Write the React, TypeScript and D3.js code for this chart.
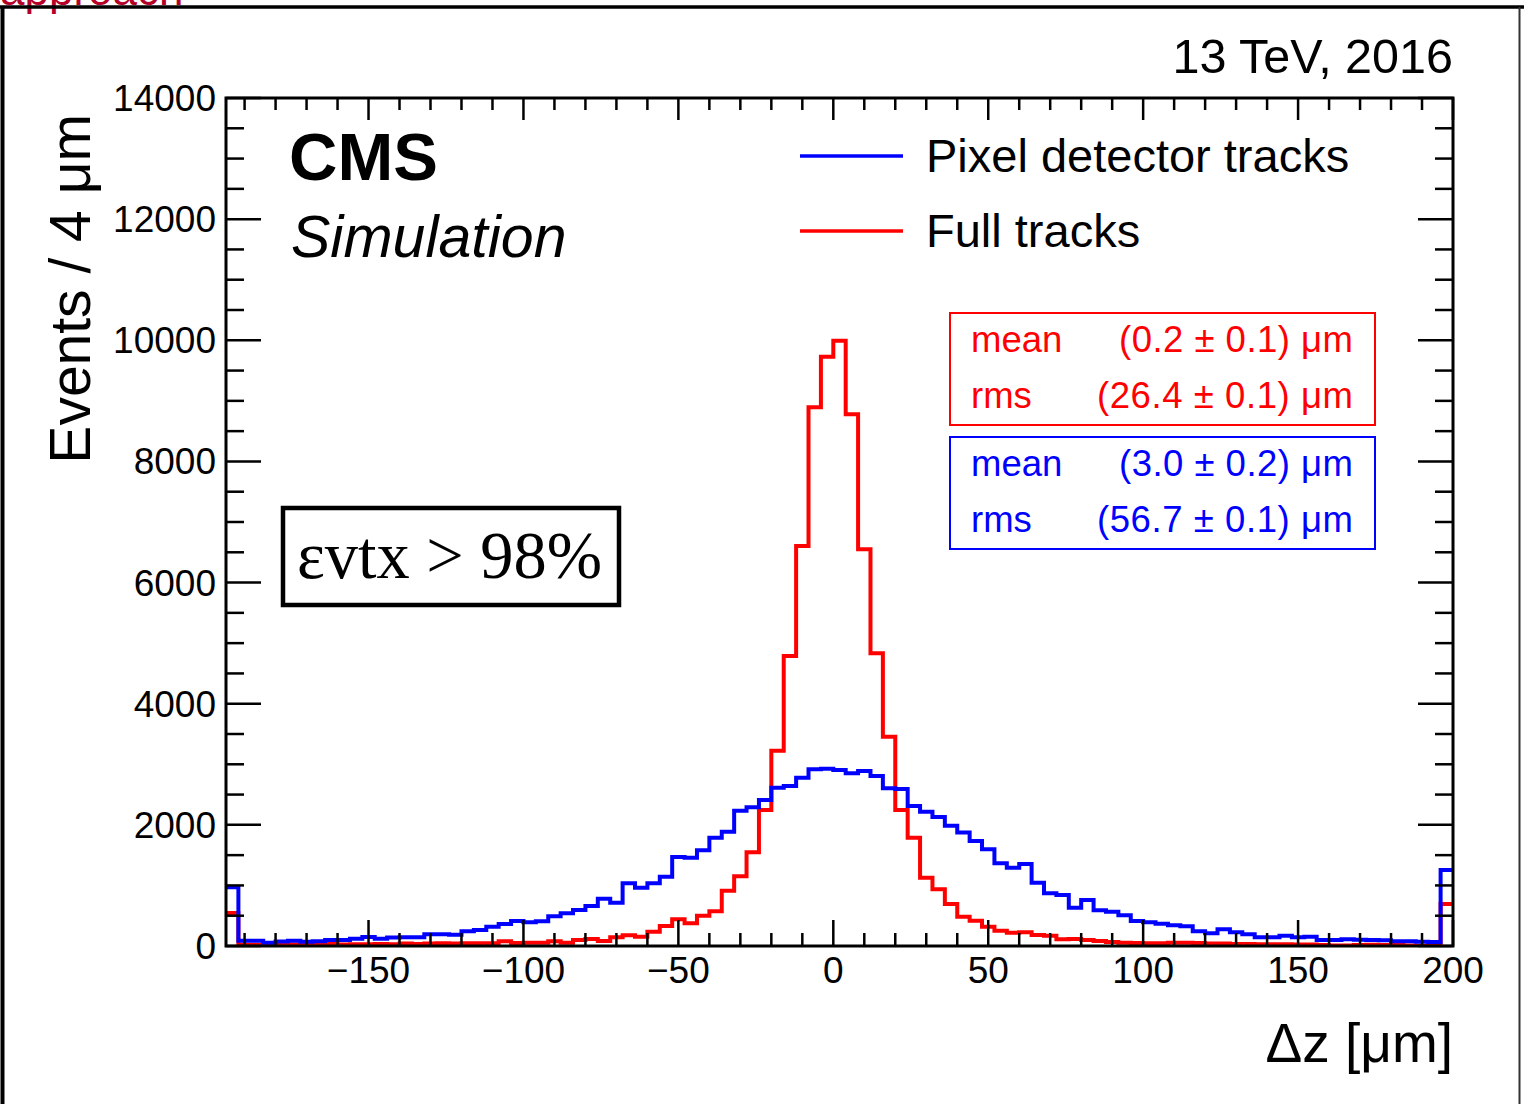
import React from "react";
import * as d3 from "d3";

// ---- data ----
const binLow: number[] = d3.range(-196, 200, 4); // 99 bins of 4 µm
const pixelTracks: number[] = [
  970, 85, 85, 55, 75, 85, 70, 80, 100, 100,
  120, 150, 120, 140, 145, 145, 195, 195, 185, 245,
  264, 319, 363, 413, 391, 407, 490, 540, 594, 660,
  781, 715, 1035, 963, 1035, 1144, 1469, 1458, 1580, 1789,
  1887, 2234, 2290, 2410, 2614, 2642, 2779, 2917, 2927, 2906,
  2851, 2889, 2807, 2603, 2592, 2311, 2217, 2130, 1986, 1875,
  1734, 1596, 1365, 1293, 1354, 1045, 870, 842, 632, 759,
  589, 566, 507, 413, 391, 368, 342, 325, 245, 209,
  275, 226, 193, 143, 143, 170, 143, 154, 99, 100,
  110, 105, 99, 94, 77, 77, 72, 66, 1255,
];
const fullTracks: number[] = [
  545, 20, 22, 15, 20, 25, 20, 25, 33, 25,
  30, 30, 35, 30, 40, 35, 40, 45, 40, 44,
  44, 44, 77, 49, 55, 55, 77, 55, 99, 116,
  82, 143, 176, 154, 236, 330, 440, 374, 500, 575,
  913, 1151, 1547, 2245, 3225, 4788, 6604, 8894, 9730, 9993,
  8778, 6550, 4832, 3456, 2245, 1789, 1128, 936, 693, 484,
  418, 319, 253, 220, 226, 182, 170, 110, 116, 99,
  83, 66, 55, 50, 44, 44, 55, 55, 50, 40,
  40, 35, 35, 30, 30, 30, 25, 25, 15, 10,
  10, 15, 20, 15, 20, 10, 5, 5, 693,
];
const xMajorTicks: number[] = [-150, -100, -50, 0, 50, 100, 150, 200];
const xTickLabels: string[] = ["\u2212150", "\u2212100", "\u221250", "0", "50", "100", "150", "200"];
const yMajorTicks: number[] = [0, 2000, 4000, 6000, 8000, 10000, 12000, 14000];
const legendLabels: string[] = ["Pixel detector tracks", "Full tracks"];
const statsFull: string[][] = [["mean", "(0.2 \u00b1 0.1) \u03bcm"], ["rms", "(26.4 \u00b1 0.1) \u03bcm"]];
const statsPixel: string[][] = [["mean", "(3.0 \u00b1 0.2) \u03bcm"], ["rms", "(56.7 \u00b1 0.1) \u03bcm"]];

const SANS = "'Liberation Sans', Arial, Helvetica, sans-serif";
const SERIF = "'Liberation Serif', 'Times New Roman', serif";
const BLUE = "#0000ff";
const RED = "#ff0000";

export default function App() {
  const L = 226, R = 1453, T = 98, B = 946;
  const x = d3.scaleLinear().domain([-196, 200]).range([L, R]);
  const y = d3.scaleLinear().domain([0, 14000]).range([B, T]);

  const stepPath = (vals: number[]) => {
    const pts: [number, number][] = vals.map((v, i) => [binLow[i], v]);
    pts.push([200, vals[vals.length - 1]]);
    return d3
      .line<[number, number]>()
      .x((d) => x(d[0]))
      .y((d) => y(d[1]))
      .curve(d3.curveStepAfter)(pts) as string;
  };

  const xMinor = d3.range(-190, 201, 10);
  const yMinor = d3.range(0, 14001, 500);

  return (
    <svg
      width={1524}
      height={1104}
      style={{ position: "absolute", left: 0, top: 0, background: "#fff" }}
      fontFamily={SANS}
    >
      <rect x={0} y={0} width={1524} height={1104} fill="#fff" />
      {/* remnant text at top (cut off in the source image too) */}
      <text x={0} y={5} fontSize={44} fill="#b5002a">approach</text>
      {/* outer frame */}
      <line x1={0} x2={1524} y1={7} y2={7} stroke="#000" strokeWidth={3.5} />
      <line x1={2.5} x2={2.5} y1={7} y2={1104} stroke="#000" strokeWidth={4} />
      <line x1={1519.5} x2={1519.5} y1={7} y2={1104} stroke="#333" strokeWidth={2} />

      <defs>
        <clipPath id="plotclip">
          <rect x={L} y={T} width={R - L} height={B - T} />
        </clipPath>
      </defs>

      {/* histograms */}
      <g clipPath="url(#plotclip)" fill="none" strokeWidth={4} strokeLinejoin="miter">
        <path d={stepPath(fullTracks)} stroke={RED} />
        <path d={stepPath(pixelTracks)} stroke={BLUE} />
      </g>

      {/* ticks */}
      <g stroke="#000" strokeWidth={2.5}>
        {xMinor.map((v) => {
          const major = v % 50 === 0;
          return (
            <g key={"xt" + v}>
              <line x1={x(v)} x2={x(v)} y1={B} y2={B - (major ? 26 : 13)} />
              <line x1={x(v)} x2={x(v)} y1={T} y2={T + (major ? 22 : 12)} />
            </g>
          );
        })}
        {yMinor.map((v) => {
          const major = v % 2000 === 0;
          return (
            <g key={"yt" + v}>
              <line x1={L} x2={L + (major ? 35 : 18)} y1={y(v)} y2={y(v)} />
              <line x1={R} x2={R - (major ? 35 : 18)} y1={y(v)} y2={y(v)} />
            </g>
          );
        })}
      </g>
      {/* frame */}
      <rect x={L} y={T} width={R - L} height={B - T} fill="none" stroke="#000" strokeWidth={3} />

      {/* tick labels */}
      <g fontSize={37} fill="#000">
        {xMajorTicks.map((v, i) => (
          <text key={"xl" + v} x={x(v)} y={983} textAnchor="middle">
            {xTickLabels[i]}
          </text>
        ))}
        {yMajorTicks.map((v) => (
          <text key={"yl" + v} x={216} y={y(v) + 13} textAnchor="end">
            {v}
          </text>
        ))}
      </g>

      {/* axis titles */}
      <text x={1453} y={1062} fontSize={55} textAnchor="end">
        {"\u0394z [\u03bcm]"}
      </text>
      <text transform="translate(90,114) rotate(-90)" fontSize={57} textAnchor="end">
        {"Events / 4  \u03bcm"}
      </text>

      {/* header */}
      <text x={1453} y={73} fontSize={48.5} textAnchor="end">13 TeV, 2016</text>
      <text x={289} y={180} fontSize={67} fontWeight="bold">CMS</text>
      <text x={291} y={257} fontSize={59} fontStyle="italic">Simulation</text>

      {/* legend */}
      <line x1={800} x2={903} y1={156} y2={156} stroke={BLUE} strokeWidth={3.5} />
      <text x={926} y={172} fontSize={47}>{legendLabels[0]}</text>
      <line x1={800} x2={903} y1={231} y2={231} stroke={RED} strokeWidth={3.5} />
      <text x={926} y={247} fontSize={47}>{legendLabels[1]}</text>

      {/* stats boxes */}
      <rect x={950} y={313} width={425} height={112} fill="#fff" stroke={RED} strokeWidth={2} />
      {statsFull.map((s, i) => (
        <g key={"sf" + i} fill={RED} fontSize={36.5}>
          <text x={971} y={352 + i * 56}>{s[0]}</text>
          <text x={1353} y={352 + i * 56} textAnchor="end" textLength={i === 0 ? 234 : 256} lengthAdjust="spacing">{s[1]}</text>
        </g>
      ))}
      <rect x={950} y={437} width={425} height={112} fill="#fff" stroke={BLUE} strokeWidth={2} />
      {statsPixel.map((s, i) => (
        <g key={"sp" + i} fill={BLUE} fontSize={36.5}>
          <text x={971} y={476 + i * 56}>{s[0]}</text>
          <text x={1353} y={476 + i * 56} textAnchor="end" textLength={i === 0 ? 234 : 256} lengthAdjust="spacing">{s[1]}</text>
        </g>
      ))}

      {/* efficiency box */}
      <rect x={283} y={508} width={336} height={97} fill="#fff" stroke="#000" strokeWidth={4.5} />
      <text x={297} y={578} fontSize={68} fontFamily={SERIF} textLength={305} lengthAdjust="spacingAndGlyphs">
        {"\u03b5vtx > 98%"}
      </text>
    </svg>
  );
}
